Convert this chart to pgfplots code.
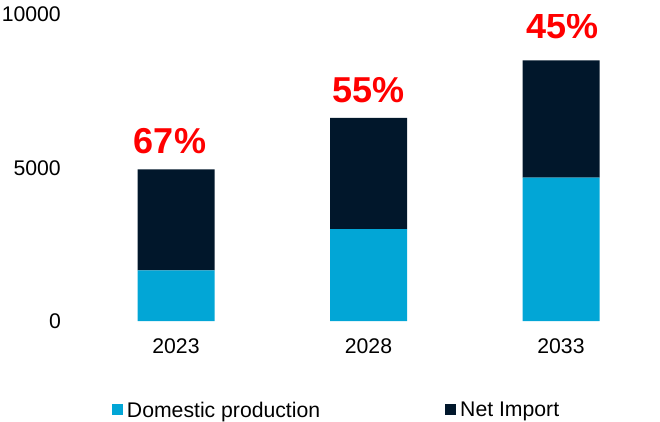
\documentclass[border=0pt]{standalone}
\usepackage{pgfplots}
\pgfplotsset{compat=1.18}
\usepackage{fontspec}
\setmainfont{Liberation Sans}
\definecolor{dom}{RGB}{2,166,214}
\definecolor{imp}{RGB}{1,23,43}
\begin{document}
\begin{tikzpicture}
\path[use as bounding box] (0,0) rectangle (660pt,421pt);
\begin{axis}[
  at={(79.75pt,100pt)}, anchor=south west,
  scale only axis, width=577.5pt, height=306.5pt,
  xmin=-0.5, xmax=2.5, ymin=0, ymax=10000,
  ybar stacked, bar width=77pt,
  scaled y ticks=false,
  xtick={0,1,2}, xticklabels={2023,2028,2033},
  ytick={0,5000,10000}, yticklabels={0,5000,10000},
  tick style={draw=none}, axis line style={draw=none},
  xticklabel style={anchor=north, inner sep=0pt, yshift=-17pt, font=\fontsize{21.2}{24}\selectfont},
  yticklabel style={anchor=east, inner sep=0pt, xshift=-18.75pt, font=\fontsize{21.2}{24}\selectfont},
  legend columns=2,
  legend style={draw=none, fill=none, inner sep=0pt, outer sep=0pt,
    at={(0.0558,-0.2912)}, anchor=west,
    font=\fontsize{21.2}{24}\selectfont,
    nodes={inner sep=0pt},
    /tikz/every odd column/.append style={column sep=4pt},
    /tikz/every even column/.append style={column sep=125pt}},
  legend image code/.code={\fill[#1] (0pt,-5pt) rectangle (11pt,6pt);},
]
\addplot[fill=dom, draw=none] coordinates {(0,1650) (1,3000) (2,4680)};
\addplot[fill=imp, draw=none] coordinates {(0,3300) (1,3630) (2,3820)};
\legend{Domestic production, Net Import}
\node[text=red, font=\bfseries\fontsize{36}{40}\selectfont, anchor=base, inner sep=0pt] at (axis cs:0,4950) [xshift=-6pt, yshift=16pt] {67\%};
\node[text=red, font=\bfseries\fontsize{36}{40}\selectfont, anchor=base, inner sep=0pt] at (axis cs:1,6630) [yshift=15pt] {55\%};
\node[text=red, font=\bfseries\fontsize{36}{40}\selectfont, anchor=base, inner sep=0pt] at (axis cs:2,8500) [xshift=1.5pt, yshift=22pt] {45\%};
\end{axis}
\end{tikzpicture}
\end{document}
